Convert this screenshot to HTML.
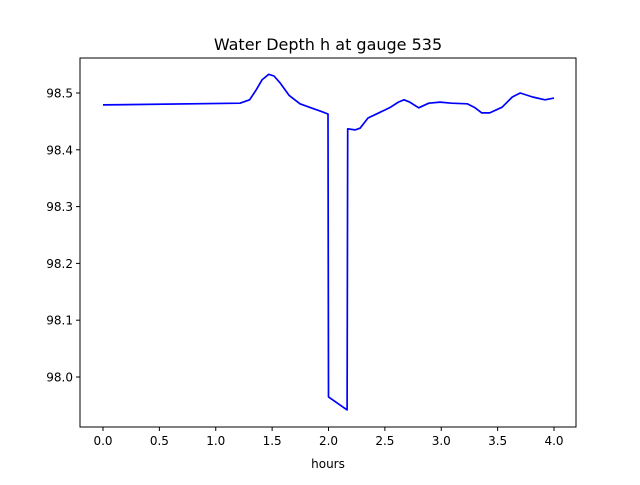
<!DOCTYPE html>
<html><head><meta charset="utf-8"><style>
body{margin:0;background:#fff;font-family:"Liberation Sans","DejaVu Sans",sans-serif}
text{font-family:"DejaVu Sans","Liberation Sans",sans-serif}
</style></head><body>
<svg id="chart" width="640" height="480" xmlns="http://www.w3.org/2000/svg">
<rect width="640" height="480" fill="#fff"/>
<text x="328" y="50" font-size="16" text-anchor="middle">Water Depth h at gauge 535</text>
<g id="axes"></g>
<text x="328" y="468" font-size="12" text-anchor="middle">hours</text>
</svg>
<script>
const times=[0,1.215,1.30,1.357,1.41,1.47,1.517,1.57,1.65,1.747,1.845,1.93,1.996,2.0,2.165,2.17,2.235,2.28,2.35,2.50,2.55,2.62,2.67,2.72,2.80,2.89,2.99,3.09,3.23,3.30,3.36,3.43,3.54,3.63,3.70,3.81,3.92,4.0];
const depths=[98.479,98.482,98.488,98.505,98.523,98.533,98.530,98.518,98.496,98.481,98.474,98.468,98.463,97.965,97.942,98.437,98.435,98.438,98.456,98.470,98.475,98.484,98.488,98.484,98.474,98.482,98.484,98.482,98.481,98.474,98.465,98.465,98.475,98.493,98.500,98.493,98.488,98.491];
const xTicks=[0,0.5,1.0,1.5,2.0,2.5,3.0,3.5,4.0];
const yTicks=[98.0,98.1,98.2,98.3,98.4,98.5];
const NS="http://www.w3.org/2000/svg";
const L=80,R=576,T=58,B=427;
const xs=t=>103+(554-103)*t/4;
const ys=h=>377-(h-98.0)*568;
const g=document.getElementById('axes');
function el(n,a){const e=document.createElementNS(NS,n);for(const k in a)e.setAttribute(k,a[k]);g.appendChild(e);return e;}
const fr=el('rect',{x:L,y:T,width:R-L,height:B-T,fill:'none',stroke:'#000','stroke-width':1});


xTicks.forEach(v=>{
  const x=xs(v);
  const tk=el('line',{x1:x,x2:x,y1:B,y2:B+4,stroke:'#000'});
  
  
  const t=el('text',{x:x,y:B+18,'font-size':12,'text-anchor':'middle'});
  t.textContent=v.toFixed(1);
  
  
});
yTicks.forEach(v=>{
  const y=ys(v);
  const tk=el('line',{x1:L-4,x2:L,y1:y,y2:y,stroke:'#000'});
  
  
  const t=el('text',{x:L-7,y:y+4.5,'font-size':12,'text-anchor':'end'});
  t.textContent=v.toFixed(1);
  
  
});
const pts=times.map((t,i)=>xs(t).toFixed(1)+','+ys(depths[i]).toFixed(1)).join(' ');
const line=el('polyline',{points:pts,fill:'none',stroke:'#0000ff','stroke-width':1.7,'stroke-linejoin':'round'});


</script>
</body></html>
